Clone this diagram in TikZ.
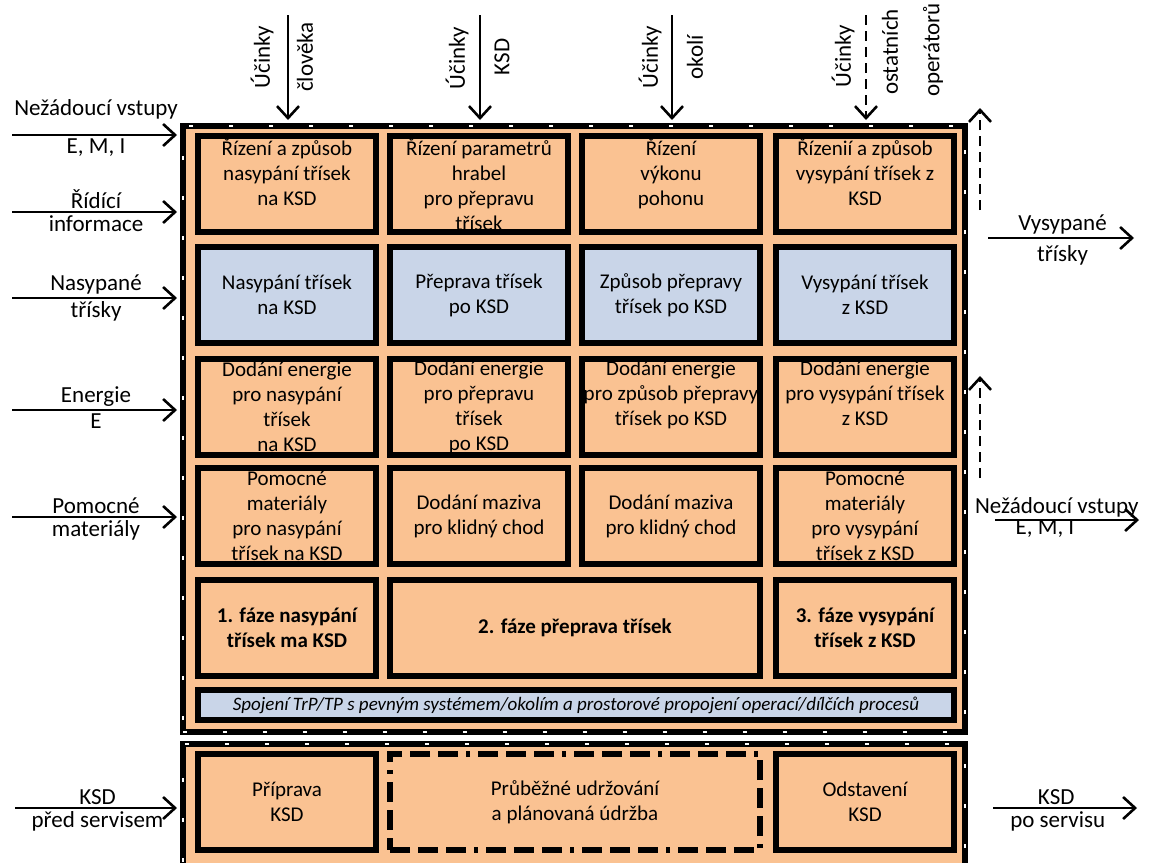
\documentclass[tikz,border=0pt]{standalone}
\usepackage{fontspec}
\setmainfont{Carlito}
\usetikzlibrary{arrows.meta,positioning}

\definecolor{cellorange}{RGB}{250,194,146}
\definecolor{cellblue}{RGB}{201,213,232}

\tikzset{
	txt/.style={font=\fontsize{10.5}{12.5}\selectfont, align=center, inner sep=1pt},
	lab/.style={txt, font=\fontsize{11.5}{13}\selectfont},
	cell/.style={txt, draw, line width=3pt, fill=cellorange, minimum width=89pt, minimum height=48pt, inner sep=0pt},
	bluecell/.style={cell, fill=cellblue},
	phase/.style={cell, font=\fontsize{10.5}{12.5}\selectfont\bfseries},
	frame/.style={draw, line width=3pt, fill=cellorange, inner sep=0pt,
		postaction={draw=white, line width=0.6pt, dash pattern=on 2pt off 18pt}},
	flow/.style={line width=1.3pt, shorten >=1.5pt, -{Straight Barb[length=6pt, width=11pt]}},
	dflow/.style={flow, dash pattern=on 5pt off 3pt},
}

\begin{document}
\begin{tikzpicture}[x=0.5pt, y=-0.5pt]
	\useasboundingbox (0,0) rectangle (1150,862);
	% frames
	\node[frame, minimum width=391pt, minimum height=303pt] (system) at (574,429) {};
	\node[frame, minimum width=391pt, minimum height=61pt] (service) at (574,805) {};

	% row 1 - control
	\node[cell] (c11) at (287,184) {};
	\node[txt, below=1.5pt of c11.north] (t11) {Řízení a způsob\\nasypání třísek\\na KSD};
	\node[cell] (c12) at (479,184) {Řízení parametrů\\hrabel\\pro přepravu\\třísek};
	\node[cell] (c13) at (671,184) {};
	\node[txt, below=1.5pt of c13.north] (t13) {Řízení\\výkonu\\pohonu};
	\node[cell] (c14) at (865,184) {};
	\node[txt, below=1.5pt of c14.north] (t14) {Řízenií a způsob\\vysypání třísek z\\KSD};

	% row 2 - operations
	\node[bluecell] (c21) at (287,295) {Nasypání třísek\\na KSD};
	\node[bluecell] (c22) at (479,295) {Přeprava třísek\\po KSD};
	\node[bluecell] (c23) at (671,295) {Způsob přepravy\\třísek po KSD};
	\node[bluecell] (c24) at (865,295) {Vysypání třísek\\z KSD};

	% row 3 - energy
	\node[cell] (c31) at (287,407) {Dodání energie\\pro nasypání\\třísek\\na KSD};
	\node[cell] (c32) at (479,407) {Dodání energie\\pro přepravu\\třísek\\po KSD};
	\node[cell] (c33) at (671,407) {};
	\node[txt, below=1.5pt of c33.north] (t33) {Dodání energie\\pro způsob přepravy\\třísek po KSD};
	\node[cell] (c34) at (865,407) {};
	\node[txt, below=1.5pt of c34.north] (t34) {Dodání energie\\pro vysypání třísek\\z KSD};

	% row 4 - materials
	\node[cell] (c41) at (287,516) {Pomocné\\materiály\\pro nasypání\\třísek na KSD};
	\node[cell] (c42) at (479,516) {Dodání maziva\\pro klidný chod};
	\node[cell] (c43) at (671,516) {Dodání maziva\\pro klidný chod};
	\node[cell] (c44) at (865,516) {Pomocné\\materiály\\pro vysypání\\třísek z KSD};

	% row 5 - phases
	\node[phase] (p1) at (287,628) {1. fáze nasypání\\třísek ma KSD};
	\node[phase, minimum width=185pt] (p2) at (575,628) {2. fáze přeprava třísek};
	\node[phase] (p3) at (865,628) {3. fáze vysypání\\třísek z KSD};
	\node[bluecell, minimum width=378pt, minimum height=15pt, font=\fontsize{9.5}{11}\selectfont\itshape] (link) at (576,705)
		{Spojení TrP/TP s pevným systémem/okolím a prostorové propojení operací/dílčích procesů};

	% service
	\node[cell] (s1) at (287,802) {Příprava\\KSD};
	\node[cell, minimum width=185pt, dash pattern=on 10pt off 4pt on 10pt off 4pt on 10pt off 4pt on 2pt off 4pt] (s2) at (575,802)
		{Průběžné udržování\\a plánovaná údržba};
	\node[cell] (s3) at (865,802) {Odstavení\\KSD};

	% effects from above
	\coordinate (e1) at (288,15);
	\coordinate (e2) at (480,15);
	\coordinate (e3) at (672,15);
	\coordinate (e4) at (866,15);
	\draw[flow] (e1) -- (e1 |- system.north);
	\draw[flow] (e2) -- (e2 |- system.north);
	\draw[flow] (e3) -- (e3 |- system.north);
	\draw[dflow] (e4) -- (e4 |- system.north);
	\node[lab, rotate=90] (e1a) at (262,57) {Účinky};
	\node[lab, rotate=90] (e1b) at (305,57) {člověka};
	\node[lab, rotate=90] (e2a) at (457,58) {Účinky};
	\node[lab, rotate=90] (e2b) at (502,57) {KSD};
	\node[lab, rotate=90] (e3a) at (650,57) {Účinky};
	\node[lab, rotate=90] (e3b) at (695,57) {okolí};
	\node[lab, rotate=90] (e4a) at (843,56) {Účinky};
	\node[lab, rotate=90] (e4b) at (890,52) {ostatních};
	\node[lab, rotate=90] (e4c) at (933,50) {operátorů};

	% inputs
	\coordinate (i1) at (12,135);
	\coordinate (i2) at (12,212);
	\coordinate (i3) at (12,298);
	\coordinate (i4) at (12,410);
	\coordinate (i5) at (12,517);
	\coordinate (i6) at (15,808);
	\draw[flow] (i1) -- (i1 -| system.west) node[lab, midway, above=6pt] (i1a) {Nežádoucí vstupy} node[lab, midway, below] (i1b) {E, M, I};
	\draw[flow] (i2) -- (i2 -| system.west) node[lab, midway, above] (i2a) {Řídící} node[lab, midway, below] (i2b) {informace};
	\draw[flow] (i3) -- (i3 -| system.west) node[lab, midway, above] (i3a) {Nasypané} node[lab, midway, below] (i3b) {třísky};
	\draw[flow] (i4) -- (i4 -| system.west) node[lab, midway, above] (i4a) {Energie} node[lab, midway, below] (i4b) {E};
	\draw[flow] (i5) -- (i5 -| system.west) node[lab, midway, above] (i5a) {Pomocné} node[lab, midway, below] (i5b) {materiály};
	\draw[flow] (i6) -- (i6 -| service.west) node[lab, midway, above] (i6a) {KSD} node[lab, midway, below] (i6b) {před servisem};

	% outputs
	\coordinate (o1s) at (988,238);
	\coordinate (o1e) at (1137,238);
	\coordinate (o2s) at (995,520);
	\coordinate (o2e) at (1142,520);
	\coordinate (o3s) at (993,808);
	\coordinate (o3e) at (1140,808);
	\draw[flow] (o1s) -- (o1e) node[lab, pos=0.5, above] (o1a) {Vysypané} node[lab, pos=0.5, below=2pt] (o1b) {třísky};
	\draw[flow] (o2s) -- (o2e) node[lab, pos=0.42, above] (o2a) {Nežádoucí vstupy} node[lab, pos=0.34, below=-2pt] (o2b) {E, M, I};
	\draw[flow] (o3s) -- (o3e) node[lab, pos=0.43, above] (o3a) {KSD} node[lab, pos=0.44, below] (o3b) {po servisu};

	% leaving upwards
	\coordinate (u1s) at (980,210);
	\coordinate (u1e) at (980,105);
	\coordinate (u2s) at (980,478);
	\coordinate (u2e) at (980,373);
	\draw[dflow] (u1s) -- (u1e);
	\draw[dflow] (u2s) -- (u2e);
\end{tikzpicture}
\end{document}
